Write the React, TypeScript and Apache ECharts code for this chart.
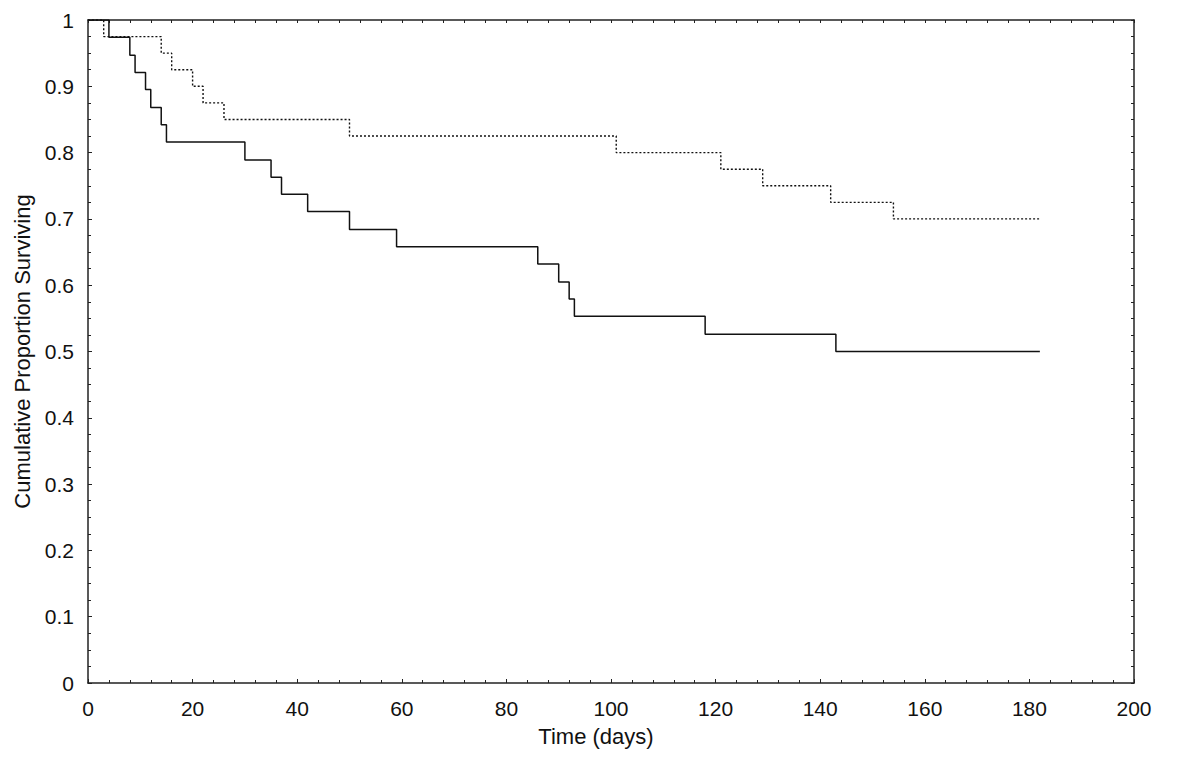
import React, { useEffect, useRef } from "react";
import * as echarts from "echarts";

const solidTimes = [0, 4, 8, 9, 11, 12, 14, 15, 30, 35, 37, 42, 50, 59, 86, 90, 92, 93, 118, 143, 182];
const solidValues = [1, 0.974, 0.947, 0.921, 0.895, 0.868, 0.842, 0.816, 0.789, 0.763, 0.737, 0.711, 0.684, 0.658, 0.632, 0.605, 0.579, 0.553, 0.526, 0.5, 0.5];

const dottedTimes = [0, 3, 14, 16, 20, 22, 26, 50, 101, 121, 129, 142, 154, 182];
const dottedValues = [1, 0.975, 0.95, 0.925, 0.9, 0.875, 0.85, 0.825, 0.8, 0.775, 0.75, 0.725, 0.7, 0.7];

const xTitle = "Time (days)";
const yTitle = "Cumulative Proportion Surviving";

const FONT = "'Liberation Sans', Arial, sans-serif";
const AXIS_COLOR = "#222";

export default function App() {
  const ref = useRef<HTMLDivElement>(null);

  useEffect(() => {
    if (!ref.current) return;
    const chart = echarts.init(ref.current, undefined, { renderer: "svg" });

    const tickStyle = { lineStyle: { color: AXIS_COLOR, width: 1 } };
    const axisLine = { show: true, onZero: false, lineStyle: { color: AXIS_COLOR, width: 1.5 } };

    chart.setOption({
      animation: false,
      backgroundColor: "#fff",
      textStyle: { fontFamily: FONT },
      grid: { left: 88, right: 66, top: 20, bottom: 81, containLabel: false },
      xAxis: [
        {
          type: "value",
          min: 0,
          max: 200,
          interval: 20,
          position: "bottom",
          axisLine,
          axisTick: { show: true, inside: true, length: 4, ...tickStyle },
          minorTick: { show: true, splitNumber: 5, length: 3, ...tickStyle },
          splitLine: { show: false },
          axisLabel: { color: "#111", fontSize: 21, fontFamily: FONT, margin: 15 },
          name: xTitle,
          nameLocation: "middle",
          nameGap: 42,
          nameTextStyle: { color: "#111", fontSize: 22, fontFamily: FONT, padding: [0, 30, 0, 0] },
        },
        {
          type: "value",
          min: 0,
          max: 200,
          interval: 20,
          position: "top",
          axisLine,
          axisTick: { show: true, inside: true, length: 3, ...tickStyle },
          minorTick: { show: true, splitNumber: 5, length: 3, ...tickStyle },
          splitLine: { show: false },
          axisLabel: { show: false },
        },
      ],
      yAxis: [
        {
          type: "value",
          min: 0,
          max: 1,
          interval: 0.1,
          position: "left",
          axisLine,
          axisTick: { show: true, inside: true, length: 4, ...tickStyle },
          minorTick: { show: true, splitNumber: 4, length: 3, ...tickStyle },
          splitLine: { show: false },
          axisLabel: { color: "#111", fontSize: 21, fontFamily: FONT, margin: 14 },
          name: yTitle,
          nameLocation: "middle",
          nameGap: 50,
          nameTextStyle: { color: "#111", fontSize: 22, fontFamily: FONT },
        },
        {
          type: "value",
          min: 0,
          max: 1,
          interval: 0.1,
          position: "right",
          axisLine,
          axisTick: { show: true, inside: true, length: 3, ...tickStyle },
          minorTick: { show: true, splitNumber: 4, length: 3, ...tickStyle },
          splitLine: { show: false },
          axisLabel: { show: false },
        },
      ],
      series: [
        {
          type: "line",
          step: "end",
          xAxisIndex: 0,
          yAxisIndex: 0,
          data: solidTimes.map((t, i) => [t, solidValues[i]]),
          showSymbol: false,
          symbol: "none",
          lineStyle: { color: "#111", width: 1.5, type: "solid" },
          z: 3,
        },
        {
          type: "line",
          step: "end",
          xAxisIndex: 0,
          yAxisIndex: 0,
          data: dottedTimes.map((t, i) => [t, dottedValues[i]]),
          showSymbol: false,
          symbol: "none",
          lineStyle: { color: "#111", width: 1.4, type: [2, 2] },
          z: 2,
        },
      ],
    });

    return () => chart.dispose();
  }, []);

  return (
    <div
      ref={ref}
      style={{ position: "absolute", left: 0, top: 0, width: 1200, height: 764, background: "#fff" }}
    />
  );
}
